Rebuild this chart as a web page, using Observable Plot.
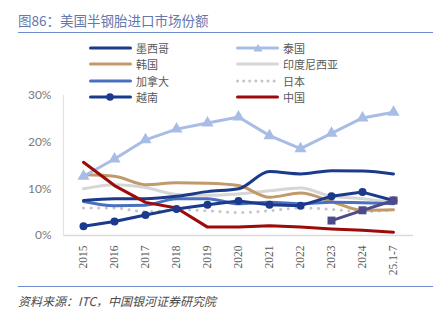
<!DOCTYPE html>
<html><head><meta charset="utf-8">
<script src="https://cdn.jsdelivr.net/npm/d3@7"></script>
<script src="https://cdn.jsdelivr.net/npm/@observablehq/plot@0.6"></script>
<style>
body{margin:0;background:#fff;font-family:"Noto Sans CJK SC",sans-serif;}
#wrap{position:relative;width:439px;height:321px;overflow:hidden}
#title{position:absolute;left:18px;top:10px;font-size:13.5px;line-height:20px;color:#6577ad;white-space:nowrap}
#tline{position:absolute;left:18px;top:32px;width:415px;height:1px;background:#6f8ccc}
#chart{position:absolute;left:0;top:0}
.item{position:absolute;height:14px;display:flex;align-items:center;font-size:11px;color:#595959;white-space:nowrap}
.item svg{margin-right:4px}
#bline{position:absolute;left:18px;top:286px;width:415px;height:1px;background:#6f8ccc}
#caption{position:absolute;left:18px;top:292px;font-size:12px;line-height:18px;font-style:italic;color:#4a4a4a;white-space:nowrap}
</style></head>
<body>
<div id="wrap">
<div id="title">图86：美国半钢胎进口市场份额</div>
<div id="tline"></div>
<div id="chart"></div>
<div id="legend"></div>
<div id="bline"></div>
<div id="caption">资料来源：ITC，中国银河证券研究院</div>
</div>
<script>
const years = ["2015","2016","2017","2018","2019","2020","2021","2022","2023","2024","25.1-7"];
const mexico    = [0.075,0.079,0.079,0.084,0.094,0.100,0.137,0.132,0.139,0.138,0.132];
const thailand  = [0.127,0.164,0.205,0.228,0.241,0.254,0.214,0.186,0.219,0.252,0.264];
const korea     = [0.130,0.127,0.109,0.113,0.112,0.107,0.082,0.091,0.073,0.054,0.055];
const indonesia = [0.100,0.109,0.103,0.088,0.086,0.089,0.096,0.102,0.084,0.079,0.071];
const canada    = [0.073,0.064,0.065,0.079,0.079,0.068,0.071,0.068,0.071,0.070,0.068];
const japan     = [0.059,0.059,0.051,0.055,0.053,0.049,0.053,0.059,0.056,0.051,0.055];
const vietnam   = [0.020,0.030,0.044,0.057,0.066,0.074,0.066,0.064,0.084,0.093,0.075];
const china     = [0.157,0.107,0.071,0.059,0.018,0.018,0.021,0.018,0.014,0.011,0.007];
const other     = [null,null,null,null,null,null,null,null,0.032,0.054,0.075];
const yTicks = [0,0.1,0.2,0.3];

const series = [
  {name:"印度尼西亚", v:indonesia, color:"#d6d6d6", curve:"monotone-x"},
  {name:"日本", v:japan, color:"#c6c6c6", curve:"monotone-x", dash:"0.1 7.5", width:3},
  {name:"韩国", v:korea, color:"#c19a6b", curve:"monotone-x"},
  {name:"加拿大", v:canada, color:"#4a70bf", curve:"monotone-x"},
  {name:"墨西哥", v:mexico, color:"#1b3a8c", curve:"monotone-x"},
  {name:"泰国", v:thailand, color:"#a8bde6", curve:"linear", symbol:"triangle", r:4.5},
  {name:"中国", v:china, color:"#9c0a0a", curve:"linear"},
  {name:"越南", v:vietnam, color:"#1b3a8c", curve:"linear", symbol:"circle", r:4},
  {name:"其他", v:other, color:"#4e4a8a", curve:"linear", symbol:"square", r:4.5}
];

const marks = [
  Plot.axisY({ticks:yTicks, tickFormat:d3.format(".0%"), tickSize:0, tickPadding:12, label:null,
    fontFamily:"Lato, 'Noto Sans', sans-serif", fontSize:12, fill:"#7a7a7a"}),
  Plot.axisX({tickRotate:-90, tickSize:0, tickPadding:10, label:null,
    fontFamily:"'Liberation Serif', serif", fontSize:11.5, fill:"#595959"}),
  Plot.ruleY([0], {stroke:"#d9d9d9", strokeWidth:1.5}),
  Plot.frame({anchor:"left", stroke:"#e3e3e3", strokeWidth:1.2})
];
for (const s of series) {
  const data = years.map((y,i)=>({year:y, value:s.v[i]})).filter(d=>d.value!=null);
  marks.push(Plot.line(data, {x:"year", y:"value", stroke:s.color, strokeWidth:s.width||3,
    curve:s.curve, strokeDasharray:s.dash, strokeLinecap:"round", strokeLinejoin:"round"}));
  if (s.symbol) marks.push(Plot.dot(data, {x:"year", y:"value", fill:s.color, stroke:"none", symbol:s.symbol, r:s.r}));
}

const chart = Plot.plot({
  width:439, height:285, marginTop:95, marginBottom:50, marginLeft:63, marginRight:26,
  style:{background:"transparent"},
  x:{type:"point", domain:years, padding:0.5},
  y:{domain:[0,0.3]},
  marks
});
document.getElementById("chart").appendChild(chart);

// legend
const legendItems = [
  {name:"墨西哥", col:0, row:0},{name:"泰国", col:1, row:0},
  {name:"韩国", col:0, row:1},{name:"印度尼西亚", col:1, row:1},
  {name:"加拿大", col:0, row:2},{name:"日本", col:1, row:2},
  {name:"越南", col:0, row:3},{name:"中国", col:1, row:3}
];
const rowsY = [48,64,80.5,97];
const colsX = [89,236];
const leg = document.getElementById("legend");
for (const it of legendItems) {
  const s = series.find(d=>d.name===it.name);
  const div = document.createElement("div");
  div.className = "item";
  div.style.left = colsX[it.col]+"px";
  div.style.top = (rowsY[it.row]-7)+"px";
  let marker = "";
  if (s.symbol==="triangle") marker = `<path d="M22,1 L26.5,8.5 L17.5,8.5Z" fill="${s.color}"/>`;
  if (s.symbol==="circle") marker = `<circle cx="21" cy="5" r="3.8" fill="${s.color}"/>`;
  div.innerHTML = `<svg width="43" height="10"><line x1="1.5" x2="41.5" y1="5" y2="5" stroke="${s.color}" stroke-width="3" stroke-linecap="round" ${s.dash?'stroke-dasharray="0.1 6"':''}/>${marker}</svg><span>${s.name}</span>`;
  leg.appendChild(div);
}
</script>
</body></html>
